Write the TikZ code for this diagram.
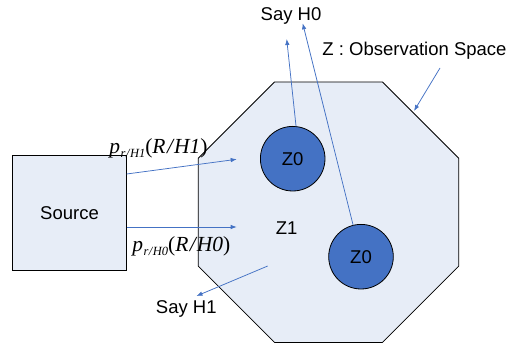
\documentclass[tikz,border=0pt]{standalone}
\usepackage{fontspec}
\setmainfont{Liberation Sans}
\newfontfamily\tnr{Liberation Serif}
\usetikzlibrary{shapes.geometric,arrows.meta}
\definecolor{fillblue}{HTML}{E7EDF7}
\definecolor{accent}{HTML}{4472C4}
\newcommand{\mylab}[1]{{\tnr\fontsize{21.5}{21.5}\selectfont\itshape p\kern0.5pt\raisebox{-3.5pt}{\fontsize{12.5}{12.5}\selectfont r\kern0.5pt/\kern0.5pt H#1}\upshape(\itshape R\kern1.5pt/\kern1pt H#1\upshape)}}
\tikzset{
  txt/.style={font=\fontsize{18.5}{18.5}\selectfont, inner sep=0pt},
  srcbox/.style={draw=black, line width=0.8pt, fill=fillblue, inner sep=0pt, outer sep=0pt, minimum width=114.4pt, minimum height=114.3pt, font=\fontsize{18.5}{18.5}\selectfont},
  octa/.style={regular polygon, regular polygon sides=8, draw=black, line width=0.8pt, fill=fillblue, inner sep=0pt, outer sep=0pt, minimum size=282pt},
  zcirc/.style={circle, draw=black, line width=0.8pt, fill=accent, inner sep=0pt, outer sep=0pt, minimum size=64.6pt, font=\fontsize{18.5}{18.5}\selectfont},
  arr/.style={draw=accent, line width=0.75pt, -{Latex[length=6pt,width=4.5pt]}}
}
\begin{document}
\begin{tikzpicture}[x=1pt,y=-1pt]
\useasboundingbox (0,0) rectangle (515,347);
\node[octa] (oct) at (328.5,212.2) {};
\node[srcbox] (src) at (69.5,212.8) {Source};
\node[zcirc] (z0a) at (292.7,158.7) {Z0};
\node[zcirc] (z0b) at (361,256.7) {Z0};
\node[txt, anchor=base] (z1) at (286.7,234.3) {Z1};
\node[txt, anchor=base] (sayh0) at (291,20.7) {Say H0};
\node[txt, anchor=base] (sayh1) at (186.3,313.3) {Say H1};
\node[txt, anchor=base] (zobs) at (414.5,56) {Z : Observation Space};
\node[inner sep=0pt, anchor=base] (lab1) at (158.5,154) {\mylab{1}};
\node[inner sep=0pt, anchor=base] (lab0) at (181.3,252) {\mylab{0}};
\coordinate (a1s) at (126.7,174);
\coordinate (a1e) at (236.7,159.3);
\coordinate (a0s) at (126.7,227);
\coordinate (a0e) at (236.7,227);
\coordinate (h1s) at (267.7,266);
\coordinate (h1e) at (196.5,296);
\coordinate (h0ea) at (286.7,39);
\coordinate (h0eb) at (302.7,23.3);
\coordinate (obss) at (440,68);
\coordinate (obse) at (414,111);
\draw[arr] (a1s) -- (a1e);
\draw[arr] (a0s) -- (a0e);
\draw[arr] (h1s) -- (h1e);
\draw[arr] (z0a.84) -- (h0ea);
\draw[arr] (z0b.104) -- (h0eb);
\draw[arr] (obss) -- (obse);
\end{tikzpicture}
\end{document}
